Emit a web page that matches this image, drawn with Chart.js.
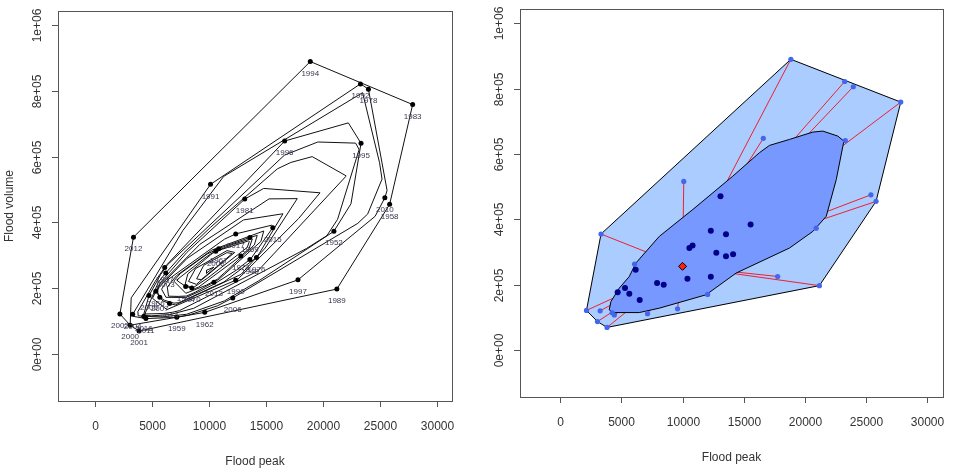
<!DOCTYPE html>
<html>
<head>
<meta charset="utf-8">
<script src="https://cdn.jsdelivr.net/npm/chart.js@4.4.1/dist/chart.umd.min.js"></script>
<style>
    html, body { margin: 0; padding: 0; background: #fff; }
    #wrap { position: relative; width: 955px; height: 470px; }
    .panel { position: absolute; top: 0; height: 470px; }
</style>
</head>
<body>
<div id="wrap">
    <div class="panel" style="left:0;width:477px"><canvas id="left" width="477" height="470"></canvas></div>
    <div class="panel" style="left:477px;width:478px"><canvas id="right" width="478" height="470"></canvas></div>
</div>
<script>
// Flood events: peak discharge, flood volume and year label
const years = ['1994', '1992', '1978', '1983', '1996', '1995', '1991', '1981', '2010', '1958',
    '2015', '1952', '2012', '2017', '1969', '1967', '2008', '1974', '1948', '1976',
    '1987', '2003', '2013', '1990', '1986', '1970', '1997', '1989', '2006', '2005',
    '1966', '2007', '2014', '1962', '1959', '2002', '2004', '2016', '2011', '2000', '2001'];
const floodPeak = [18850, 23250, 23950, 27830, 16600, 23300, 10100, 13100, 25390, 25810,
    15560, 20920, 3340, 12310, 13550, 10820, 10560, 12760, 13550, 14130,
    6080, 6170, 10400, 12310, 7920, 8460, 17770, 21180, 12050, 4700,
    5300, 5650, 6500, 9590, 7140, 2150, 3270, 4250, 4430, 3050, 3830];
const floodVolume = [890000, 822000, 806000, 759000, 648000, 641000, 516000, 471000, 475000, 455000,
    384000, 373000, 355000, 365000, 354000, 320000, 312000, 298000, 287000, 293000,
    263000, 246000, 218000, 224000, 205000, 200000, 225000, 197000, 170000, 177000,
    190000, 172000, 153000, 126000, 111000, 121000, 120000, 114000, 107000, 87000, 69000];

// bagplot: median and the bag (50% depth region) outline
const medianPeak = [10000];
const medianVolume = [256000];
const bagPeak = [4010, 4280, 6460, 8100, 11920, 14380, 18740, 20650, 21740, 22560, 23100, 23180,
    22690, 21460, 20640, 18740, 17100, 16280, 14100, 10830, 8100, 6190, 5650, 4830, 4150];
const bagVolume = [122800, 114500, 114500, 128000, 168900, 235500, 312200, 363200, 409200, 521900, 624100, 639500,
    654800, 670200, 667100, 644700, 626300, 603900, 532000, 429800, 347800, 266200, 225000, 189400, 148300];

// axes
const xTicks = [0, 5000, 10000, 15000, 20000, 25000, 30000];
const yTicks = [0, 200000, 400000, 600000, 800000, 1000000];
const yTickLabels = ['0e+00', '2e+05', '4e+05', '6e+05', '8e+05', '1e+06'];
const xRange = [-3280, 31280];
const yRange = [-144000, 1044000];

const FONT = '"Liberation Sans", Arial, sans-serif';
const points = floodPeak.map((x, i) => ({ x: x, y: floodVolume[i] }));

// convex hull (monotone chain)
function hull(pts) {
    const p = pts.slice().sort((a, b) => a.x - b.x || a.y - b.y);
    const cross = (o, a, b) => (a.x - o.x) * (b.y - o.y) - (a.y - o.y) * (b.x - o.x);
    const lower = [], upper = [];
    p.forEach(q => {
        while (lower.length >= 2 && cross(lower[lower.length - 2], lower[lower.length - 1], q) <= 0) lower.pop();
        lower.push(q);
    });
    for (let i = p.length - 1; i >= 0; i--) {
        const q = p[i];
        while (upper.length >= 2 && cross(upper[upper.length - 2], upper[upper.length - 1], q) <= 0) upper.pop();
        upper.push(q);
    }
    upper.pop(); lower.pop();
    return lower.concat(upper);
}

function clip(poly, u, s) {
    const out = [];
    for (let i = 0; i < poly.length; i++) {
        const P = poly[i], Q = poly[(i + 1) % poly.length];
        const dp = u[0] * P[0] + u[1] * P[1] - s;
        const dq = u[0] * Q[0] + u[1] * Q[1] - s;
        if (dp >= 0) out.push(P);
        if ((dp >= 0) !== (dq >= 0)) {
            const t = dp / (dp - dq);
            out.push([P[0] + t * (Q[0] - P[0]), P[1] + t * (Q[1] - P[1])]);
        }
    }
    return out;
}

function area(poly) {
    let a = 0;
    for (let i = 0; i < poly.length; i++) {
        const P = poly[i], Q = poly[(i + 1) % poly.length];
        a += P[0] * Q[1] - Q[0] * P[1];
    }
    return Math.abs(a) / 2;
}

// Tukey depth regions D_k = intersection of halfplanes u.x >= k-th smallest u.p
function depthRegions(pts) {
    const sx = 30000, sy = 1e6;
    const P = pts.map(p => [p.x / sx, p.y / sy]);
    const dirs = [];
    for (let i = 0; i < P.length; i++) {
        for (let j = i + 1; j < P.length; j++) {
            const dx = P[j][0] - P[i][0], dy = P[j][1] - P[i][1], L = Math.hypot(dx, dy);
            if (L === 0) continue;
            dirs.push([-dy / L, dx / L], [dy / L, -dx / L]);
        }
    }
    for (let a = 0; a < 360; a++) {
        const t = a * Math.PI / 180;
        dirs.push([Math.cos(t), Math.sin(t)]);
    }
    const proj = dirs.map(u => P.map(p => u[0] * p[0] + u[1] * p[1]).sort((a, b) => a - b));
    const regions = [];
    for (let k = 1; k <= P.length; k++) {
        let poly = [[-5, -5], [5, -5], [5, 5], [-5, 5]];
        for (let d = 0; d < dirs.length && poly.length >= 3; d++) {
            poly = clip(poly, dirs[d], proj[d][k - 1] - 1e-12);
        }
        if (poly.length < 3 || area(poly) < 1e-7) break;
        const ring = poly.map(p => ({ x: p[0] * sx, y: p[1] * sy }));
        ring.push(ring[0]);
        regions.push(ring);
    }
    return regions;
}

function insidePoly(pt, poly) {
    let c = false;
    for (let i = 0, j = poly.length - 1; i < poly.length; j = i++) {
        const a = poly[i], b = poly[j];
        if ((a.y > pt.y) !== (b.y > pt.y) &&
            pt.x < (b.x - a.x) * (pt.y - a.y) / (b.y - a.y) + a.x) c = !c;
    }
    return c;
}

// R-style frame: box, outward ticks, rotated y labels, axis titles
function frame(yTitleGap) {
    return {
        id: 'rframe',
        afterDraw(chart) {
            const { ctx, chartArea: a, scales: { x, y } } = chart;
            ctx.save();
            ctx.strokeStyle = '#555';
            ctx.lineWidth = 1;
            ctx.strokeRect(Math.round(a.left) + 0.5, Math.round(a.top) + 0.5,
                Math.round(a.right - a.left), Math.round(a.bottom - a.top));
            ctx.fillStyle = '#333';
            ctx.font = '12px ' + FONT;
            ctx.textAlign = 'center';
            ctx.textBaseline = 'middle';
            xTicks.forEach(v => {
                const px = Math.round(x.getPixelForValue(v)) + 0.5;
                ctx.beginPath();
                ctx.moveTo(px, a.bottom);
                ctx.lineTo(px, a.bottom + 6);
                ctx.stroke();
                ctx.fillText(String(v), px, a.bottom + 26);
            });
            yTicks.forEach((v, i) => {
                const py = Math.round(y.getPixelForValue(v)) + 0.5;
                ctx.beginPath();
                ctx.moveTo(a.left - 6, py);
                ctx.lineTo(a.left, py);
                ctx.stroke();
                ctx.save();
                ctx.translate(a.left - 20, py);
                ctx.rotate(-Math.PI / 2);
                ctx.fillText(yTickLabels[i], 0, 0);
                ctx.restore();
            });
            ctx.fillText('Flood peak', (a.left + a.right) / 2, a.bottom + 61);
            ctx.save();
            ctx.translate(a.left - yTitleGap, (a.top + a.bottom) / 2);
            ctx.rotate(-Math.PI / 2);
            ctx.fillText('Flood volume', 0, 0);
            ctx.restore();
            ctx.restore();
        }
    };
}

// year labels under each point
const yearLabels = {
    id: 'yearLabels',
    afterDatasetsDraw(chart) {
        const ctx = chart.ctx;
        const idx = chart.data.datasets.findIndex(d => d.label === 'floods');
        const meta = chart.getDatasetMeta(idx);
        ctx.save();
        ctx.fillStyle = '#3c3650';
        ctx.font = '8px ' + FONT;
        ctx.textAlign = 'center';
        ctx.textBaseline = 'middle';
        meta.data.forEach((el, i) => ctx.fillText(years[i], el.x, el.y + 12));
        ctx.restore();
    }
};

function scaleOpts() {
    return {
        x: { type: 'linear', min: xRange[0], max: xRange[1], display: false },
        y: { type: 'linear', min: yRange[0], max: yRange[1], display: false }
    };
}

const common = {
    responsive: false,
    animation: false,
    events: [],
    plugins: { legend: { display: false }, tooltip: { enabled: false } }
};

// Left panel: depth contours with labelled points
const contours = depthRegions(points);
const leftSets = contours.map(ring => ({
    type: 'line',
    data: ring,
    borderColor: '#111',
    borderWidth: 1,
    pointRadius: 0,
    tension: 0,
    fill: false,
    order: 5
}));
leftSets.push({
    type: 'scatter',
    label: 'floods',
    data: points,
    backgroundColor: '#000',
    borderWidth: 0,
    pointRadius: 2.5,
    order: 1
});

new Chart(document.getElementById('left'), {
    type: 'scatter',
    data: { datasets: leftSets },
    options: Object.assign({}, common, {
        layout: { padding: { left: 58, right: 25, top: 11, bottom: 69 } },
        scales: scaleOpts()
    }),
    plugins: [frame(48), yearLabels]
});

// Right panel: bagplot
const loop = hull(points);
loop.push(loop[0]);
const bag = bagPeak.map((x, i) => ({ x: x, y: bagVolume[i] }));
const median = { x: medianPeak[0], y: medianVolume[0] };
const bagPts = points.filter(p => insidePoly(p, bag));
const loopPts = points.filter(p => !insidePoly(p, bag));

const rightSets = [{
    type: 'line',
    data: loop,
    borderColor: '#000',
    borderWidth: 1,
    backgroundColor: '#aaccff',
    pointRadius: 0,
    tension: 0,
    fill: 'shape',
    order: 10
}];
// whiskers run to the median; the bag is drawn over their inner part
loopPts.forEach(p => rightSets.push({
    type: 'line',
    data: [p, median],
    borderColor: '#ee2030',
    borderWidth: 1,
    pointRadius: 0,
    fill: false,
    order: 9
}));
rightSets.push({
    type: 'line',
    data: bag.concat([bag[0]]),
    borderColor: '#000',
    borderWidth: 1,
    backgroundColor: '#7799ff',
    pointRadius: 0,
    tension: 0,
    fill: 'shape',
    order: 8
});
rightSets.push({
    type: 'scatter',
    data: loopPts,
    backgroundColor: '#4466ee',
    borderWidth: 0,
    pointRadius: 2.6,
    order: 3
});
rightSets.push({
    type: 'scatter',
    data: bagPts,
    backgroundColor: '#000088',
    borderWidth: 0,
    pointRadius: 3,
    order: 2
});
rightSets.push({
    type: 'scatter',
    data: [median],
    backgroundColor: '#ff2010',
    borderColor: '#000',
    borderWidth: 1,
    pointStyle: 'rectRot',
    pointRadius: 4,
    order: 1
});

new Chart(document.getElementById('right'), {
    type: 'scatter',
    data: { datasets: rightSets },
    options: Object.assign({}, common, {
        layout: { padding: { left: 43, right: 12, top: 9, bottom: 73 } },
        scales: scaleOpts()
    }),
    plugins: [frame(54)]
});
</script>
</body>
</html>
